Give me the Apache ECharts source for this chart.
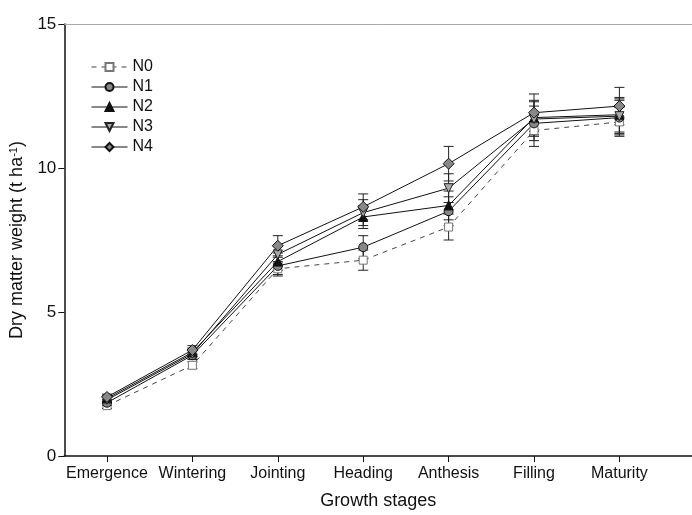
<!DOCTYPE html>
<html>
<head>
<meta charset="utf-8">
<script src="https://cdn.jsdelivr.net/npm/echarts@6/dist/echarts.min.js"></script>
<style>
  html, body { margin: 0; padding: 0; background: #fff; }
  #chart { width: 692px; height: 515px; }
</style>
</head>
<body>
<div id="chart"></div>
<script>
// growth stages on the x axis
var stages = ['Emergence', 'Wintering', 'Jointing', 'Heading', 'Anthesis', 'Filling', 'Maturity']
var treatments = ['N0', 'N1', 'N2', 'N3', 'N4']

// dry matter weight, t/ha
var n0 = [1.75, 3.15, 6.5, 6.8, 7.95, 11.3, 11.6]
var n1 = [1.85, 3.5, 6.6, 7.25, 8.5, 11.55, 11.75]
var n2 = [2.0, 3.6, 6.75, 8.3, 8.7, 11.75, 11.85]
var n3 = [1.95, 3.55, 7.0, 8.45, 9.3, 11.7, 11.8]
var n4 = [2.05, 3.68, 7.3, 8.65, 10.15, 11.92, 12.15]

// error bar half widths
var e0 = [0.1, 0.12, 0.25, 0.35, 0.45, 0.55, 0.5]
var e1 = [0.1, 0.15, 0.3, 0.4, 0.5, 0.6, 0.6]
var e2 = [0.1, 0.15, 0.3, 0.4, 0.5, 0.6, 0.6]
var e3 = [0.1, 0.15, 0.3, 0.45, 0.5, 0.6, 0.6]
var e4 = [0.1, 0.15, 0.35, 0.45, 0.6, 0.65, 0.65]

var values = [n0, n1, n2, n3, n4]
var errors = [e0, e1, e2, e3, e4]

var styles = [
  { symbol: 'rect', size: 8, fill: '#fff', border: '#777', line: '#444', type: [5, 5] },
  { symbol: 'circle', size: 9, fill: '#888', border: '#111', line: '#111', type: 'solid' },
  { symbol: 'triangle', size: 9, fill: '#111', border: '#111', line: '#111', type: 'solid' },
  { symbol: 'path://M0,0 L10,0 L5,9 Z', size: 9, fill: '#aaa', border: '#222', line: '#111', type: 'solid' },
  { symbol: 'diamond', size: 11, fill: '#888', border: '#111', line: '#111', type: 'solid' }
]

var font = 'Liberation Sans, Arial, sans-serif'
var chart = echarts.init(document.getElementById('chart'))

var series = []
treatments.forEach(function (name, k) {
  var st = styles[k]
  series.push({
    name: name,
    type: 'line',
    symbol: st.symbol,
    symbolSize: st.size,
    z: 3,
    itemStyle: { color: st.fill, borderColor: st.border, borderWidth: 1 },
    lineStyle: { color: st.line, width: 1, type: st.type },
    data: values[k].map(function (v, i) { return [i, v] })
  })
  series.push({
    type: 'custom',
    z: 2,
    silent: true,
    renderItem: function (params, api) {
      var top = api.coord([api.value(0), api.value(2)])
      var bot = api.coord([api.value(0), api.value(1)])
      var w = 5
      var s = { stroke: '#222', lineWidth: 1 }
      return {
        type: 'group',
        children: [
          { type: 'line', shape: { x1: top[0], y1: top[1], x2: bot[0], y2: bot[1] }, style: s },
          { type: 'line', shape: { x1: top[0] - w, y1: top[1], x2: top[0] + w, y2: top[1] }, style: s },
          { type: 'line', shape: { x1: bot[0] - w, y1: bot[1], x2: bot[0] + w, y2: bot[1] }, style: s }
        ]
      }
    },
    data: values[k].map(function (v, i) { return [i, v - errors[k][i], v + errors[k][i]] })
  })
})

var ticks = stages.map(function (s, i) { return i })

var option = {
  animation: false,
  textStyle: { fontFamily: font },
  grid: { left: 62, right: 0, top: 24, bottom: 54 },
  legend: {
    orient: 'vertical',
    left: 86,
    top: 54,
    itemWidth: 36,
    itemHeight: 10,
    itemGap: 4,
    lineStyle: { width: 1 },
    textStyle: { fontSize: 16, color: '#111', fontFamily: font },
    data: treatments
  },
  xAxis: [{
    type: 'value',
    min: -0.5,
    max: 6.85,
    splitLine: { show: false },
    axisLine: { onZero: false, lineStyle: { color: '#111', width: 1.5 } },
    axisTick: { show: true, length: 6, customValues: ticks, lineStyle: { color: '#111' } },
    axisLabel: {
      customValues: ticks,
      fontSize: 16,
      color: '#111',
      margin: 10,
      formatter: function (v) { return stages[v] }
    },
    name: 'Growth stages',
    nameLocation: 'middle',
    nameGap: 36,
    nameTextStyle: { fontSize: 18, color: '#111' }
  }, {
    type: 'value',
    position: 'top',
    min: -0.5,
    max: 6.85,
    axisLine: { show: true, onZero: false, lineStyle: { color: '#aaa', width: 1 } },
    axisTick: { show: false },
    axisLabel: { show: false },
    splitLine: { show: false }
  }],
  yAxis: {
    type: 'value',
    min: 0,
    max: 15,
    interval: 5,
    splitLine: { show: false },
    axisLine: { show: true, onZero: false, lineStyle: { color: '#111', width: 1.5 } },
    axisTick: { show: true, length: 6, lineStyle: { color: '#111' } },
    axisLabel: { fontSize: 17, color: '#111', margin: 8 },
    name: '{a|Dry matter weight (t ha}{s|-1}{a|)}',
    nameLocation: 'middle',
    nameGap: 20,
    nameRotate: 90,
    nameTextStyle: {
      rich: {
        a: { fontSize: 18, color: '#111', fontFamily: font },
        s: { fontSize: 11, color: '#111', fontFamily: font, verticalAlign: 'top', padding: [0, 0, 8, 0] }
      }
    }
  },
  series: series
}

chart.setOption(option)
</script>
</body>
</html>
